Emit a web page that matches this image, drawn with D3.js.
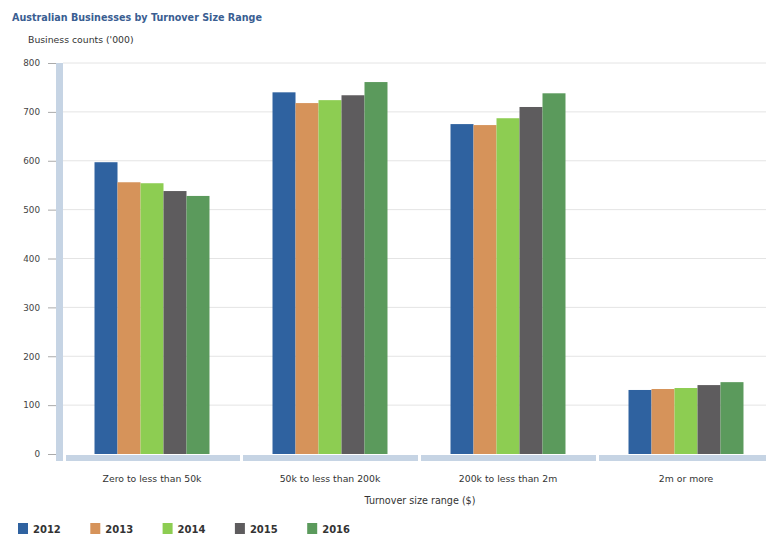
<!DOCTYPE html>
<html>
<head>
<meta charset="utf-8">
<script src="https://cdn.jsdelivr.net/npm/d3@7"></script>
<style>
html,body{margin:0;padding:0;background:#fff;}
svg{display:block;font-family:Verdana,"DejaVu Sans",sans-serif;}
</style>
</head>
<body>
<svg id="chart" width="766" height="537"></svg>
<script>
const categories = ["Zero to less than 50k", "50k to less than 200k", "200k to less than 2m", "2m or more"];
const years = ["2012", "2013", "2014", "2015", "2016"];
const v2012 = [597, 740, 675, 131];
const v2013 = [556, 718, 673, 133];
const v2014 = [554, 724, 687, 135];
const v2015 = [538, 734, 710, 141];
const v2016 = [528, 761, 738, 147];
const seriesValues = [v2012, v2013, v2014, v2015, v2016];
const colors = ["#2f62a0", "#d6935a", "#8dcd52", "#5e5c5e", "#5b9a5c"];
const yTicks = [0, 100, 200, 300, 400, 500, 600, 700, 800];

(function () {
const svg = d3.select("#chart");
const pLeft = 63, pRight = 775, pTop = 63, pBottom = 454;

const x0 = d3.scaleBand().domain(categories).range([pLeft, pRight])
  .paddingInner(0.354).paddingOuter(0.177);
const x1 = d3.scaleBand().domain(years).range([0, x0.bandwidth()]).padding(0);
const y = d3.scaleLinear().domain([0, 800]).range([pBottom, pTop]);

// title
svg.append("text").attr("x", 12).attr("y", 21)
  .attr("font-size", 9.6).attr("font-weight", "bold").attr("fill", "#3a5e92")
  .text("Australian Businesses by Turnover Size Range");
svg.append("text").attr("x", 28).attr("y", 43)
  .attr("font-size", 9.3).attr("fill", "#333")
  .text("Business counts ('000)");

// gridlines
svg.append("g").selectAll("line").data(yTicks.filter(d => d > 0)).join("line")
  .attr("x1", pLeft).attr("x2", 766)
  .attr("y1", d => y(d)).attr("y2", d => y(d))
  .attr("stroke", "#e4e4e4").attr("stroke-width", 1);

// y axis with ticks
const yAxis = d3.axisLeft(y).tickValues(yTicks).tickSize(8).tickPadding(8);
const gy = svg.append("g").attr("transform", `translate(56,0)`).call(yAxis);
gy.select(".domain").remove();
gy.selectAll(".tick line").attr("stroke", "#aaa");
gy.selectAll(".tick text").attr("font-size", 8.8).attr("fill", "#444")
  .attr("font-family", 'Verdana,"DejaVu Sans",sans-serif');

// vertical axis bar
svg.append("rect").attr("x", 56).attr("y", pTop).attr("width", 7).attr("height", pBottom + 7 - pTop)
  .attr("fill", "#c6d4e4");
// horizontal axis bar segments
const step = x0.step();
categories.forEach((c, i) => {
  const segStart = i === 0 ? pLeft + 3 : x0(c) - x0.paddingOuter() * step + 2;
  const segEnd = x0(c) + x0.bandwidth() + x0.paddingOuter() * step - 1;
  svg.append("rect").attr("x", segStart).attr("y", pBottom + 1)
    .attr("width", Math.min(segEnd, 766) - segStart).attr("height", 6)
    .attr("fill", "#c6d4e4");
});

// bars
const g = svg.append("g");
categories.forEach((c, ci) => {
  g.append("g").attr("transform", `translate(${x0(c)},0)`)
    .selectAll("rect").data(years.map((yr, si) => ({yr, v: seriesValues[si][ci], col: colors[si]})))
    .join("rect")
    .attr("x", d => x1(d.yr)).attr("width", x1.bandwidth())
    .attr("y", d => y(d.v)).attr("height", d => y(0) - y(d.v))
    .attr("fill", d => d.col);
});

// category labels
const xAxis = d3.axisBottom(x0).tickSize(0).tickPadding(0);
const gx = svg.append("g").attr("transform", `translate(0,479)`).call(xAxis);
gx.select(".domain").remove();
gx.selectAll(".tick text").attr("font-size", 9.3).attr("fill", "#333")
  .attr("font-family", 'Verdana,"DejaVu Sans",sans-serif').attr("dy", "0.32em");

svg.append("text").attr("x", 420).attr("y", 504).attr("text-anchor", "middle")
  .attr("font-size", 9.6).attr("fill", "#333").text("Turnover size range ($)");

// legend
const lg = svg.append("g");
years.forEach((yr, i) => {
  const lx = 18 + i * 72.3;
  lg.append("rect").attr("x", lx).attr("y", 523).attr("width", 10).attr("height", 11).attr("fill", colors[i]);
  lg.append("text").attr("x", lx + 15).attr("y", 532.5).attr("font-size", 10)
    .attr("font-weight", "bold").attr("fill", "#333").text(yr);
});
})();
</script>
</body>
</html>
